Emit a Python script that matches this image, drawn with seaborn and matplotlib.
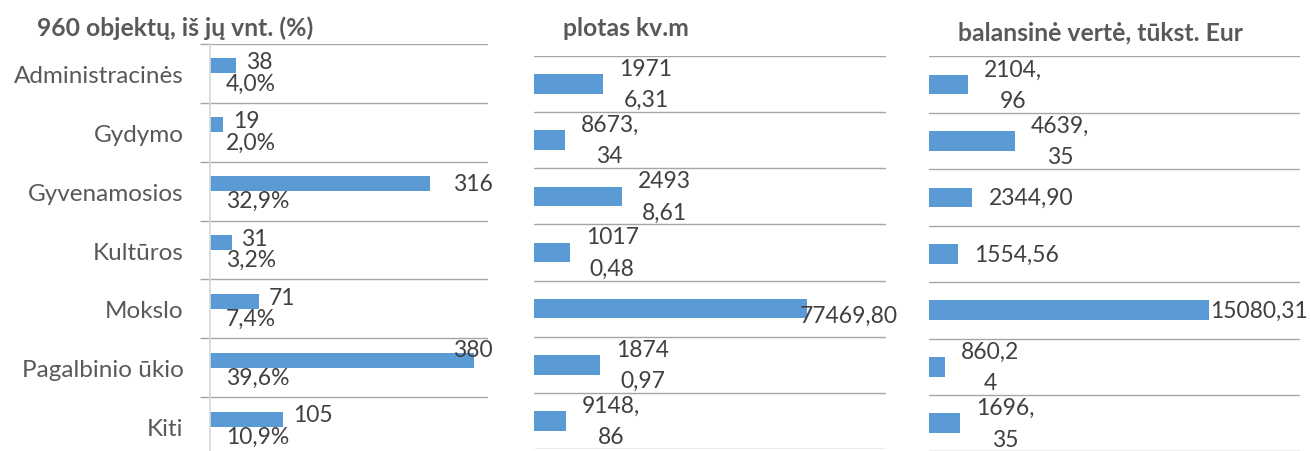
import numpy as np
import pandas as pd
import matplotlib.pyplot as plt
import seaborn as sns

# ---- data ----
categories = ["Administracinės", "Gydymo", "Gyvenamosios", "Kultūros",
              "Mokslo", "Pagalbinio ūkio", "Kiti"]
objektai_vnt = [38, 19, 316, 31, 71, 380, 105]
objektai_proc = [4.0, 2.0, 32.9, 3.2, 7.4, 39.6, 10.9]
vnt_labels = ["38", "19", "316", "31", "71", "380", "105"]
proc_labels = ["4,0%", "2,0%", "32,9%", "3,2%", "7,4%", "39,6%", "10,9%"]
plotas = [19716.31, 8673.34, 24938.61, 10170.48, 77469.80, 18740.97, 9148.86]
plotas_labels = ["1971\n6,31", "8673,\n34", "2493\n8,61", "1017\n0,48",
                 "77469,80", "1874\n0,97", "9148,\n86"]
verte = [2104.96, 4639.35, 2344.90, 1554.56, 15080.31, 860.24, 1696.35]
verte_labels = ["2104,\n96", "4639,\n35", "2344,90", "1554,56",
                "15080,31", "860,2\n4", "1696,\n35"]
titles = ["960 objektų, iš jų vnt. (%)", "plotas kv.m", "balansinė vertė, tūkst. Eur"]

BLUE = "#5B9BD5"
GRID = "#A6A6A6"
TXT = "#404040"
CAT = "#595959"

sns.set_theme(style="white")
plt.rcParams["font.family"] = ["Lato", "DejaVu Sans"]

fig = plt.figure(figsize=(13.11, 4.52), dpi=100)
ax1 = fig.add_axes([0.1602, -0.0111, 0.2121, 0.9115])
ax2 = fig.add_axes([0.4073, 0.0044, 0.2685, 0.8695])
ax3 = fig.add_axes([0.7086, -0.001, 0.2830, 0.8740])

# ---- panel 1: count + (almost invisible) percent series ----
df1 = pd.DataFrame({
    "kategorija": categories * 2,
    "reiksme": objektai_vnt + [p / 100 for p in objektai_proc],
    "serija": ["vnt"] * 7 + ["proc"] * 7,
})
sns.barplot(data=df1, x="reiksme", y="kategorija", hue="serija", orient="h",
            width=0.51, palette=[BLUE, BLUE], saturation=1, errorbar=None,
            linewidth=0, legend=False, ax=ax1)

# ---- panels 2, 3 ----
sns.barplot(x=plotas, y=categories, orient="h", color=BLUE, saturation=1,
            width=0.35, errorbar=None, linewidth=0, ax=ax2)
sns.barplot(x=verte, y=categories, orient="h", color=BLUE, saturation=1,
            width=0.35, errorbar=None, linewidth=0, ax=ax3)

for ax, xmax in [(ax1, 400), (ax2, 100000), (ax3, 20000)]:
    ax.set_xlim(0, xmax)
    ax.set_ylim(6.5, -0.5)
    ax.set_xlabel("")
    ax.set_ylabel("")
    ax.set_xticks([])
    ax.set_yticks(np.arange(-0.5, 7, 1), minor=True)
    ax.grid(which="minor", axis="y", color=GRID, lw=1)
    ax.grid(which="major", visible=False)
    for s in ax.spines.values():
        s.set_visible(False)
    ax.tick_params(which="both", left=False, length=0)

ax1.spines["left"].set_visible(True)
ax1.spines["left"].set_color("#D9D9D9")
ax1.tick_params(which="minor", left=True, length=7, color=GRID, width=1)
ax1.tick_params(which="major", pad=19, labelsize=17.5, labelcolor=CAT)
ax2.set_yticklabels([])
ax3.set_yticklabels([])

FS = 16.5


def label_bars(ax, container, labels, pad, right_frac, dy, dy_from, ydy=0):
    # labels of long bars are pushed back inside the plot area (as Excel does)
    xmax = ax.get_xlim()[1]
    for bar, lab in zip(container, labels):
        w = bar.get_width()
        y = bar.get_y() + bar.get_height() / 2
        if w / xmax > 0.7:
            off = dy if w / xmax > dy_from else 0
            ax.annotate(lab, xy=(right_frac, y), xycoords=("axes fraction", "data"),
                        xytext=(0, off), textcoords="offset points",
                        ha="right", va="center", fontsize=FS, color=TXT,
                        annotation_clip=False)
        else:
            ax.annotate(lab, xy=(w, y), xytext=(pad, ydy), textcoords="offset points",
                        ha="left", va="center", multialignment="center",
                        fontsize=FS, color=TXT, linespacing=1.62,
                        annotation_clip=False)


label_bars(ax1, ax1.containers[0], vnt_labels, 7, 1.018, 8, 0.85, ydy=3)
label_bars(ax1, ax1.containers[1], proc_labels, 11.5, 1.018, 0, 0.85, ydy=-1.5)
label_bars(ax2, ax2.containers[0], plotas_labels, 11.5, 1.034, -5, 0.7)
label_bars(ax3, ax3.containers[0], verte_labels, 11.5, 1.020, 0, 0.7)

for txt, x, y in zip(titles, [37, 563, 958], [28, 28, 33]):
    fig.text(x / 1311, 1 - y / 452, txt, fontsize=17.8, fontweight="bold",
             color=CAT, ha="left", va="center")

fig.savefig("out.png", dpi=100)
